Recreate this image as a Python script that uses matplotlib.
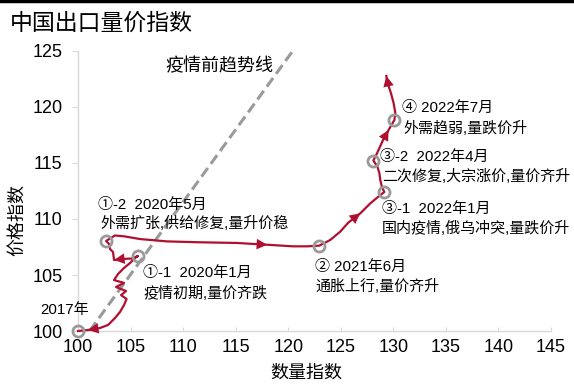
import matplotlib.pyplot as plt
from matplotlib.lines import Line2D

plt.rcParams['font.family'] = ['Liberation Sans', 'Noto Sans CJK SC']

RED = '#b01030'
GREY = '#9a9a9a'
SPINE = '#d9d9d9'

# 出口数量指数 / 价格指数 路径 (2017 = 100)
qty = [100.0, 100.95, 102.1, 102.86, 103.52, 104.0, 104.38, 104.62,
       104.1, 104.57, 103.62, 104.38, 103.43, 103.81, 104.38, 104.95,
       105.43, 105.71, 105.14, 104.19, 103.43, 103.33, 103.05, 102.95,
       102.67, 103.52, 104.48, 105.9, 108.48, 111.62, 115.14, 118.0,
       120.48, 121.81, 122.95, 124.0, 124.95, 125.71, 126.86, 127.81,
       128.76, 129.14, 128.9, 128.76, 128.67, 128.48, 128.1, 128.45,
       129.02, 129.55, 130.1, 130.19, 130.03, 129.78, 129.52, 129.33]
price = [100.0, 100.09, 100.27, 100.54, 101.16, 101.7, 102.32, 102.86,
         103.2, 103.57, 103.93, 104.29, 104.55, 105.09, 105.63, 106.07,
         106.52, 106.7, 106.47, 106.43, 106.34, 107.05, 107.32, 107.77,
         108.04, 108.53, 108.44, 108.21, 108.0, 107.92, 107.86, 107.7,
         107.56, 107.56, 107.62, 108.13, 108.87, 109.67, 110.51, 111.4,
         112.14, 112.41, 112.9, 113.48, 114.1, 114.69, 115.22, 115.87,
         117.05, 117.95, 118.84, 119.46, 120.33, 121.22, 121.96, 122.77]

# 关键时点 (路径中的下标)
key_idx = [0, 17, 24, 34, 41, 46, 50]
key_date = ['2017年', '①-1  2020年1月', '①-2  2020年5月', '② 2021年6月',
            '③-1  2022年1月', '③-2  2022年4月', '④ 2022年7月']
key_note = ['', '疫情初期,量价齐跌', '外需扩张,供给修复,量升价稳',
            '通胀上行,量价齐升', '国内疫情,俄乌冲突,量跌价升',
            '二次修复,大宗涨价,量价齐升', '外需趋弱,量跌价升']
date_off = [(7.9, 15.1), (3.8, -12.5), (-5.5, 25.9), (-2.9, -15.6),
            (-1.7, -12.2), (5.0, 2.7), (5.5, 8.4)]
note_off = [None, (3.8, -26.9), (-4.3, 12.7), (-2.9, -29.5),
            (-1.7, -26.1), (6.3, -11.7), (6.7, -6.0)]

# 箭头所在线段 (起点下标, 终点下标)
arrow_seg = [(2, 1), (19, 20), (30, 31), (37, 38), (48, 49), (54, 55)]

# 疫情前趋势线
trend_x = [101.1, 120.5]
trend_y = [100.0, 125.1]

fig = plt.figure(figsize=(5.74, 3.84), dpi=100)
ax = fig.add_axes([78 / 574, 53 / 384, 473 / 574, 280 / 384])

ax.plot(trend_x, trend_y, color=GREY, lw=2.2, dashes=(3.5, 1.7),
        clip_on=False, zorder=2)
ax.plot(qty, price, color=RED, lw=1.6, clip_on=False, zorder=3,
        solid_joinstyle='round')

for a, b in arrow_seg:
    ax.annotate('', xy=(qty[b], price[b]), xytext=(qty[a], price[a]),
                arrowprops=dict(arrowstyle='-|>', color=RED, lw=0,
                                mutation_scale=19, shrinkA=0, shrinkB=0),
                zorder=4, annotation_clip=False)

kx = [qty[i] for i in key_idx]
ky = [price[i] for i in key_idx]
ax.plot(kx, ky, 'o', ms=8, mfc='none', mec=GREY, mew=2, clip_on=False,
        zorder=5)

for i in range(len(key_idx)):
    ha = 'right' if i == 0 else 'left'
    ax.annotate(key_date[i], xy=(kx[i], ky[i]), xytext=date_off[i],
                textcoords='offset points', ha=ha, va='center',
                fontsize=10.8, annotation_clip=False)
    if key_note[i]:
        ax.annotate(key_note[i], xy=(kx[i], ky[i]), xytext=note_off[i],
                    textcoords='offset points', ha='left', va='center',
                    fontsize=10.8, annotation_clip=False)

ax.text(0.185, 0.945, '疫情前趋势线', transform=ax.transAxes, fontsize=13,
        ha='left', va='center')

ax.set_xlim(100, 145)
ax.set_ylim(100, 125)
ax.set_xticks(range(100, 146, 5))
ax.set_yticks(range(100, 126, 5))

for s in ['top', 'right']:
    ax.spines[s].set_visible(False)
for s in ['left', 'bottom']:
    ax.spines[s].set_color(SPINE)
    ax.spines[s].set_linewidth(1)

ax.tick_params(axis='x', direction='in', length=3, color=SPINE, pad=6,
               labelsize=13)
ax.tick_params(axis='y', direction='out', length=4, color=SPINE, pad=7,
               labelsize=13)

ax.set_xlabel('数量指数', fontsize=13)
ax.xaxis.set_label_coords(0.482, -0.15)
ax.xaxis.label.set_verticalalignment('center')
ax.set_ylabel('价格指数', fontsize=13)
ax.yaxis.set_label_coords(-0.127, 0.396)
ax.yaxis.label.set_verticalalignment('center')

fig.text(10 / 574, 1 - 23 / 384, '中国出口量价指数', fontsize=16.5,
         ha='left', va='center')
fig.add_artist(Line2D([0, 1], [0.997, 0.997], color='black', lw=2.5,
                      transform=fig.transFigure))

fig.savefig('out.png', dpi=100)
